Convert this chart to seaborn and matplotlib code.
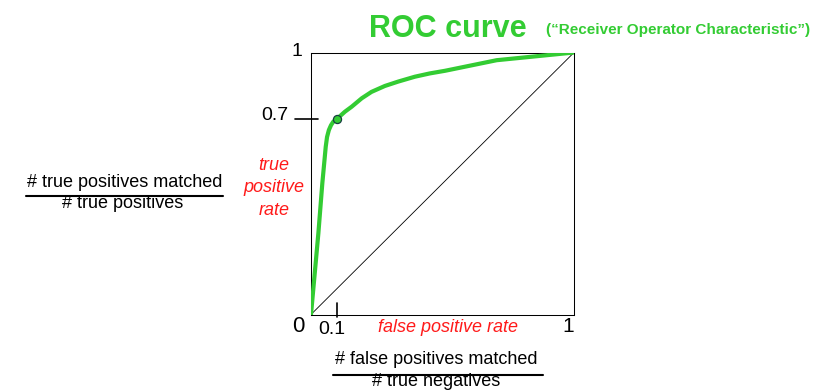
import numpy as np
import matplotlib
matplotlib.use("Agg")
import matplotlib.pyplot as plt
from matplotlib.lines import Line2D
import seaborn as sns

# ROC curve samples (false positive rate, true positive rate)
fpr = [0.0, 0.028, 0.043, 0.056, 0.061, 0.068, 0.076, 0.085, 0.1, 0.115, 0.129,
       0.155, 0.193, 0.23, 0.281, 0.332, 0.395, 0.452, 0.51, 0.706, 1.0]
tpr = [0.0, 0.290, 0.468, 0.599, 0.634, 0.659, 0.676, 0.689, 0.7, 0.716, 0.731,
       0.754, 0.792, 0.821, 0.848, 0.868, 0.890, 0.905, 0.917, 0.965, 1.0]

# highlighted operating point
point_fpr = [0.1]
point_tpr = [0.7]

GREEN = "#33cc33"
RED = "#ff1a1a"
W, H = 832, 392

sns.set_theme(style="white")
plt.rcParams["font.family"] = ["Liberation Sans", "DejaVu Sans"]
plt.rcParams["text.color"] = "black"

fig = plt.figure(figsize=(W / 100, H / 100), dpi=100)
ax = fig.add_axes([311 / W, 1 - 314.5 / H, 263 / W, 262 / H])


# the upper 30% of the TPR axis is drawn compressed, the 0.7 mark sits at 74.8%
def fwd(y):
    y = np.asarray(y, dtype=float)
    return np.where(y <= 0.7, y * (0.748 / 0.7), 0.748 + (y - 0.7) * (0.252 / 0.3))


def inv(v):
    v = np.asarray(v, dtype=float)
    return np.where(v <= 0.748, v * (0.7 / 0.748), 0.7 + (v - 0.748) * (0.3 / 0.252))


ax.set_yscale("function", functions=(fwd, inv))
ax.set_xlim(0, 1)
ax.set_ylim(0, 1)

# chance diagonal, corner to corner
ax.plot([0, 1], [0, 1], transform=ax.transAxes, color="black", lw=0.6, zorder=1)

sns.lineplot(x=fpr, y=tpr, sort=False, estimator=None, color=GREEN,
             lw=3.0, ax=ax, zorder=3, solid_capstyle="round", solid_joinstyle="round")
sns.scatterplot(x=point_fpr, y=point_tpr, color=GREEN, edgecolor="#174040",
                linewidth=0.9, s=34, ax=ax, zorder=4)

ax.set_xticks([])
ax.set_yticks([])
for sp in ax.spines.values():
    sp.set_visible(True)
    sp.set_color("black")
    sp.set_linewidth(0.75)

# hand-placed tick marks at the operating point
ax.plot([-0.061, 0.027], [point_tpr[0]] * 2, transform=ax.get_yaxis_transform(),
        color="black", lw=1.2, clip_on=False, zorder=5)
ax.plot([point_fpr[0]] * 2, [-0.01, 0.044], transform=ax.get_xaxis_transform(),
        color="black", lw=1.2, clip_on=False, zorder=5)


def ftext(x, y, s, **kw):
    fig.text(x / W, 1 - y / H, s, **kw)


# axis end labels
ftext(297, 56.5, "1", fontsize=14, ha="center", va="baseline")
ftext(288, 120.5, f"{point_tpr[0]:g}", fontsize=14, ha="right", va="baseline")
ftext(298.5, 332, "0", fontsize=16, ha="center", va="baseline")
ftext(331.5, 334.5, f"{point_fpr[0]:g}", fontsize=14, ha="center", va="baseline")
ftext(568, 332, "1", fontsize=15, ha="center", va="baseline")

# titles
ftext(448, 37, "ROC curve", fontsize=22, fontweight="bold", color=GREEN,
      ha="center", va="baseline")
ftext(678.5, 34, "(\u201cReceiver Operator Characteristic\u201d)", fontsize=11,
      fontweight="bold", color=GREEN, ha="center", va="baseline")

# rate names
ftext(448, 332, "false positive rate", fontsize=13, style="italic", color=RED,
      ha="center", va="baseline")
for txt, yb in [("true", 170), ("positive", 192.5), ("rate", 215)]:
    ftext(274, yb, txt, fontsize=13, style="italic", color=RED,
          ha="center", va="baseline")

# fraction definitions
ftext(125, 187, "# true positives matched", fontsize=13, ha="center", va="baseline")
ftext(123, 208, "# true positives", fontsize=13, ha="center", va="baseline")
fig.add_artist(Line2D([26 / W, 223 / W], [1 - 195.5 / H] * 2, color="black", lw=1.5))

ftext(436, 364.5, "# false positives matched", fontsize=13, ha="center", va="baseline")
ftext(436, 385.5, "# true negatives", fontsize=13, ha="center", va="baseline")
fig.add_artist(Line2D([333 / W, 543 / W], [1 - 374.5 / H] * 2, color="black", lw=1.5))

fig.savefig("out.png", dpi=100)
